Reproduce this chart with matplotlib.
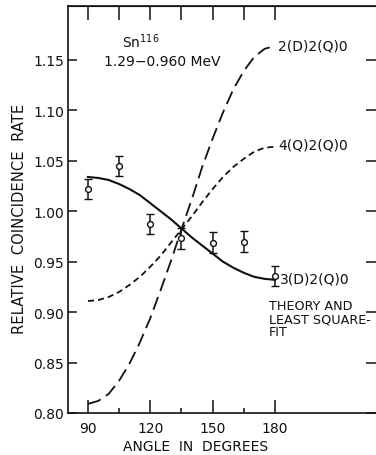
import matplotlib
matplotlib.use("Agg")
import matplotlib.pyplot as plt
from matplotlib.ticker import FixedLocator, NullFormatter

# Measured coincidence rates with statistical errors
angles = [90, 105, 120, 135, 150, 165, 180]
rate = [1.022, 1.045, 0.987, 0.973, 0.969, 0.970, 0.936]
rate_err = [0.010, 0.010, 0.010, 0.010, 0.010, 0.010, 0.010]

# Theoretical correlation curves, sampled every 5 degrees
theta = [90, 95, 100, 105, 110, 115, 120, 125, 130, 135,
         140, 145, 150, 155, 160, 165, 170, 175, 180]
w_2d2q0 = [0.809, 0.812, 0.819, 0.832, 0.849, 0.870, 0.894, 0.922, 0.951, 0.982,
           1.012, 1.044, 1.072, 1.098, 1.121, 1.139, 1.153, 1.161, 1.164]
w_4q2q0 = [0.911, 0.912, 0.915, 0.920, 0.927, 0.935, 0.945, 0.956, 0.969, 0.982,
           0.995, 1.009, 1.022, 1.034, 1.044, 1.052, 1.059, 1.063, 1.064]
w_3d2q0 = [1.034, 1.033, 1.031, 1.027, 1.022, 1.016, 1.008, 1.000, 0.992, 0.983,
           0.974, 0.966, 0.958, 0.950, 0.944, 0.939, 0.935, 0.933, 0.932]

x_major = [90, 120, 150, 180]
x_minor = [105, 135, 165]
y_ticks = [0.80, 0.85, 0.90, 0.95, 1.00, 1.05, 1.10, 1.15]
y_ticklabels = ["0.80", "0.85", "0.90", "0.95", "1.00", "1.05", "1.10", "1.15"]

W, H = 376, 456
fig = plt.figure(figsize=(W / 100, H / 100), dpi=100)
fig.patch.set_facecolor("white")

# axes box in pixels: left 68, right 378, top 7, bottom 414
ax = fig.add_axes([68 / W, 1 - 414 / H, (378 - 68) / W, (414 - 7) / H])
ax.set_xlim(80.4, 229.6)
ax.set_ylim(0.80, 1.2035)

ink = "#111111"
for s in ax.spines.values():
    s.set_linewidth(1.2)
    s.set_color(ink)

ax.plot(theta, w_2d2q0, color=ink, lw=1.3, dashes=(7.5, 3.5))
ax.plot(theta, w_4q2q0, color=ink, lw=1.3, dashes=(3.4, 2.2))
ax.plot(theta, w_3d2q0, color=ink, lw=1.5)

ax.errorbar(angles, rate, yerr=rate_err, fmt="o", ms=4.2, mfc="white",
            mec=ink, mew=1.0, ecolor=ink, elinewidth=1.1, capsize=2.8,
            capthick=1.1, zorder=5)

ax.xaxis.set_major_locator(FixedLocator(x_major))
ax.xaxis.set_minor_locator(FixedLocator(x_minor))
ax.xaxis.set_minor_formatter(NullFormatter())
ax.set_xticklabels([str(v) for v in x_major])
ax.tick_params(axis="x", which="major", direction="in", length=9.5, width=1.1,
               pad=6, labelsize=10, colors=ink)
ax.tick_params(axis="x", which="minor", direction="in", length=3.5, width=1.1,
               colors=ink)

ax.set_yticks(y_ticks)
ax.set_yticklabels(y_ticklabels)
ax.tick_params(axis="y", which="major", direction="in", length=6.5, width=1.1,
               pad=3, labelsize=10, colors=ink)

top = ax.secondary_xaxis("top")
top.set_xticks([90, 105, 120, 135, 150, 165, 180])
top.tick_params(direction="in", length=10, width=1.1, labeltop=False,
                colors=ink)
top.set_xticklabels([])

right = ax.secondary_yaxis("right")
right.set_yticks(y_ticks)
right.tick_params(direction="in", length=9, width=1.1, labelright=False,
                  colors=ink)
right.set_yticklabels([])

txt = dict(color=ink, fontsize=10)
ax.text(106.6, 1.169, r"Sn$^{116}$", ha="left", va="center", **txt)
ax.text(97.9, 1.149, "1.29\u22120.960 MeV", ha="left", va="center", **txt)
ax.text(181.4, 1.164, "2(D)2(Q)0", ha="left", va="center", **txt)
ax.text(181.4, 1.066, "4(Q)2(Q)0", ha="left", va="center", **txt)
ax.text(182.2, 0.933, "3(D)2(Q)0", ha="left", va="center", **txt)
ax.text(177.2, 0.913, "THEORY AND\nLEAST SQUARE-\nFIT", ha="left", va="top",
        linespacing=1.0, color=ink, fontsize=9.2)

fig.text(196 / W, 1 - 447 / H, "ANGLE  IN  DEGREES", ha="center",
         va="center", color=ink, fontsize=10)
fig.text(20 / W, 1 - 219 / H, "RELATIVE  COINCIDENCE  RATE", ha="center",
         va="center", rotation=90, color=ink, fontsize=10.6)

fig.savefig("out.png", dpi=100, facecolor="white")
